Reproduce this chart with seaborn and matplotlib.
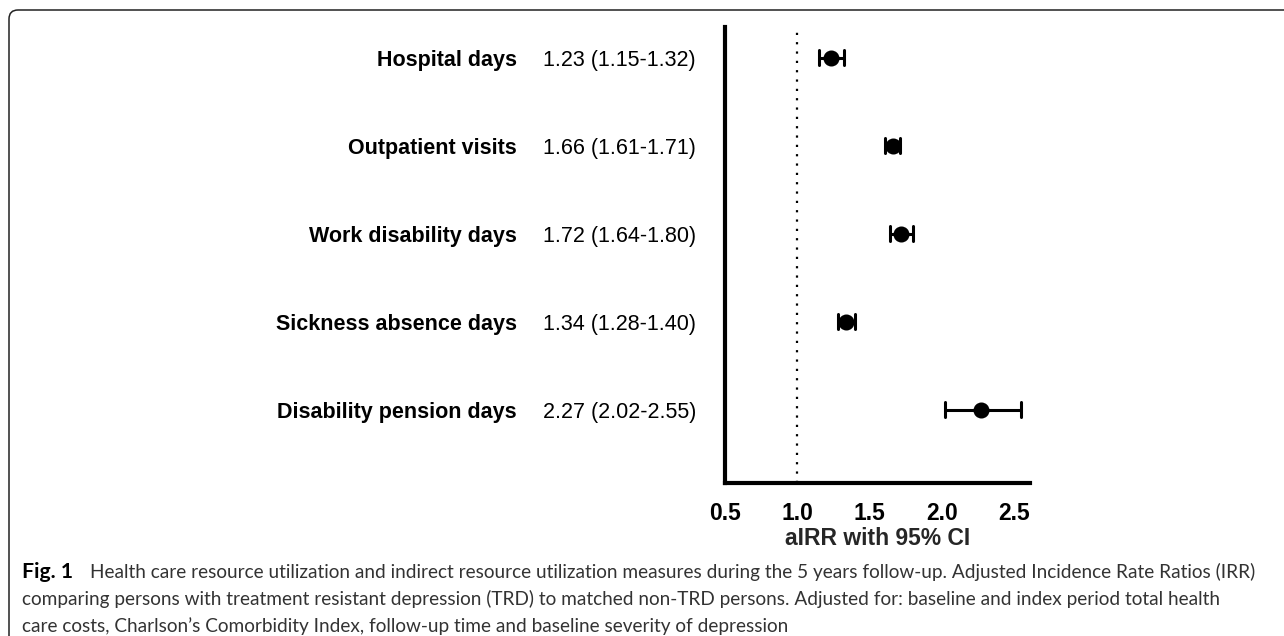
import numpy as np
import pandas as pd
import matplotlib
matplotlib.use("Agg")
import matplotlib.pyplot as plt
import matplotlib.transforms as mtransforms
from matplotlib.patches import FancyBboxPatch
import seaborn as sns

# adjusted IRR with 95% CI per outcome
outcomes = ["Hospital days", "Outpatient visits", "Work disability days",
            "Sickness absence days", "Disability pension days"]
airr = [1.23, 1.66, 1.72, 1.34, 2.27]
ci_low = [1.15, 1.61, 1.64, 1.28, 2.02]
ci_high = [1.32, 1.71, 1.80, 1.40, 2.55]
x_ticks = [0.5, 1.0, 1.5, 2.0, 2.5]

caption = [
    "Health care resource utilization and indirect resource utilization measures during the 5 years follow-up. Adjusted Incidence Rate Ratios (IRR)",
    "comparing persons with treatment resistant depression (TRD) to matched non-TRD persons. Adjusted for: baseline and index period total health",
    "care costs, Charlson\u2019s Comorbidity Index, follow-up time and baseline severity of depression",
]

sns.set_theme(style="white")
plt.rcParams["font.family"] = ["Liberation Sans", "DejaVu Sans"]

W, H = 1284, 636
fig = plt.figure(figsize=(W / 100, H / 100), dpi=100)

# long form: low / estimate / high per outcome -> median + full-range interval
long = pd.DataFrame({
    "outcome": np.repeat(outcomes, 3),
    "value": np.ravel(np.column_stack([ci_low, airr, ci_high])),
})

ax = fig.add_axes([725 / W, 1 - 483 / H, 305 / W, 456 / H])
sns.pointplot(data=long, x="value", y="outcome", orient="h",
              estimator="median", errorbar=("pi", 100),
              color="black", markers="o", linestyles="none",
              capsize=0.17, markersize=9.5,
              err_kws={"linewidth": 2.2}, ax=ax)

ax.axvline(1.0, color="black", linestyle=(0, (1, 3.2)), linewidth=1.6, zorder=0)

ax.set_xlim(0.5, 2.61)
ax.set_ylim(4.83, -0.35)
ax.set_xticks(x_ticks)
ax.set_xticklabels([f"{t:.1f}" for t in x_ticks])
ax.set_ylabel("")
ax.set_xlabel("aIRR with 95% CI", fontsize=16.5, fontweight="bold", labelpad=1)

for s in ["top", "right"]:
    ax.spines[s].set_visible(False)
for s in ["left", "bottom"]:
    ax.spines[s].set_linewidth(3)
    ax.spines[s].set_color("black")

ax.tick_params(axis="x", length=0, pad=14, labelsize=16.5)
ax.tick_params(axis="y", length=0, pad=150, labelsize=15.5)
for lbl in ax.get_xticklabels() + ax.get_yticklabels():
    lbl.set_fontweight("bold")
    lbl.set_color("black")

# estimate (CI) text column
trans = mtransforms.blended_transform_factory(fig.transFigure, ax.transData)
for i, (e, lo, hi) in enumerate(zip(airr, ci_low, ci_high)):
    ax.text(543 / W, i, f"{e:.2f} ({lo:.2f}-{hi:.2f})", transform=trans,
            ha="left", va="center_baseline", fontsize=15.5, color="black")

# panel frame with rounded corner
frame = FancyBboxPatch((0.09, -0.5), 13.5, 6.76,
                       boxstyle="round,pad=0,rounding_size=0.09",
                       transform=fig.dpi_scale_trans, fill=False,
                       edgecolor="#222222", linewidth=1.1)
fig.add_artist(frame)

# caption, sized so the first line spans the panel width
cap_font = ["Lato", "DejaVu Sans"]
fig.canvas.draw()
r = fig.canvas.get_renderer()
probe = fig.text(0, 0, caption[0], fontsize=14, family=cap_font)
w = probe.get_window_extent(renderer=r).width
probe.remove()
cap_size = 14 * (1260 - 90) / w

ys = [572, 599, 626]
fig.text(22 / W, 1 - ys[0] / H, "Fig. 1", fontsize=cap_size * 1.12, fontweight="bold",
         family=cap_font, va="center", color="black")
fig.text(90 / W, 1 - ys[0] / H, caption[0], fontsize=cap_size, family=cap_font,
         va="center", color="#333333")
for line, y in zip(caption[1:], ys[1:]):
    fig.text(22 / W, 1 - y / H, line, fontsize=cap_size, family=cap_font,
             va="center", color="#333333")

fig.savefig("out.png", dpi=100, facecolor="white")
